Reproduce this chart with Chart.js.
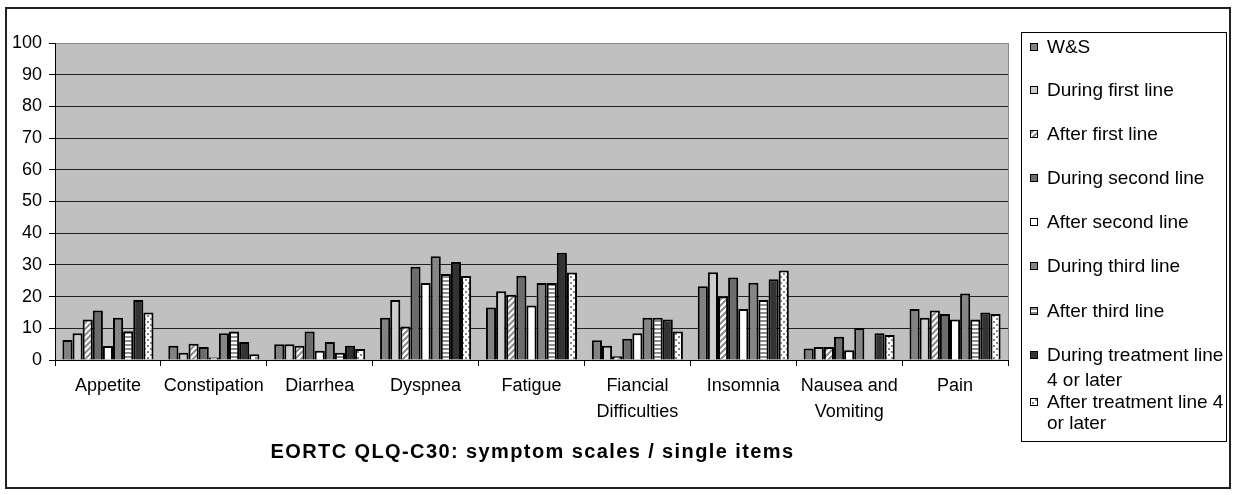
<!DOCTYPE html>
<html>
<head>
<meta charset="utf-8">
<script src="https://cdn.jsdelivr.net/npm/chart.js@4"></script>
<style>
  html, body { margin: 0; padding: 0; background: #fff; }
  #c { display: block; }
</style>
</head>
<body>
<canvas id="c" width="1239" height="495"></canvas>
<script>
const categories = [['Appetite'], ['Constipation'], ['Diarrhea'], ['Dyspnea'], ['Fatigue'], ['Fiancial', 'Difficulties'], ['Insomnia'], ['Nausea and', 'Vomiting'], ['Pain']];
const seriesNames = [['W&S'], ['During first line'], ['After first line'], ['During second line'], ['After second line'], ['During third line'], ['After third line'], ['During treatment line', '4 or later'], ['After treatment line 4', 'or later']];
const wsValues = [6.3, 4.5, 5.0, 13.3, 16.6, 6.2, 23.3, 3.6, 16.1];
const duringFirstValues = [8.4, 2.3, 5.0, 18.9, 21.7, 4.5, 27.7, 4.1, 13.3];
const afterFirstValues = [12.8, 5.1, 4.5, 10.6, 20.6, 1.2, 20.0, 4.1, 15.6];
const duringSecondValues = [15.6, 4.1, 9.0, 29.4, 26.6, 6.7, 26.0, 7.3, 14.5];
const afterSecondValues = [4.4, 0.8, 2.9, 24.3, 17.2, 8.4, 16.1, 3.1, 12.8];
const duringThirdValues = [13.3, 8.4, 5.7, 32.7, 24.3, 13.3, 24.4, 10.1, 21.0];
const afterThirdValues = [9.1, 9.0, 2.3, 27.1, 24.3, 13.3, 18.9, null, 12.8];
const duringFourthValues = [18.9, 5.7, 4.5, 30.9, 33.8, 12.8, 25.5, 8.4, 15.0];
const afterFourthValues = [15.0, 1.8, 3.5, 26.5, 27.6, 9.0, 28.2, 7.9, 14.5];
const yTickValues = [0, 10, 20, 30, 40, 50, 60, 70, 80, 90, 100];
const titleText = 'EORTC QLQ-C30: symptom scales / single items';

const FONT = "'Liberation Sans', Arial, sans-serif";

function makePattern(size, draw) {
  const c = document.createElement('canvas');
  c.width = size; c.height = size;
  const g = c.getContext('2d');
  g.fillStyle = '#ffffff';
  g.fillRect(0, 0, size, size);
  draw(g, size);
  return document.getElementById('c').getContext('2d').createPattern(c, 'repeat');
}
const diagPattern = makePattern(6, (g, s) => {
  g.strokeStyle = '#8a8a8a'; g.lineWidth = 2;
  g.beginPath();
  g.moveTo(-1, s + 1); g.lineTo(s + 1, -1);
  g.moveTo(-1, 1); g.lineTo(1, -1);
  g.moveTo(s - 1, s + 1); g.lineTo(s + 1, s - 1);
  g.stroke();
});
const hStripePattern = makePattern(4, (g, s) => {
  g.fillStyle = '#8c8c8c'; g.fillRect(0, 0, s, 2);
});
const dotPattern = makePattern(6, (g, s) => {
  g.fillStyle = '#858585';
  g.fillRect(0, 0, 2, 2);
  g.fillRect(3, 3, 2, 2);
});

const fills = ['#828282', '#cdcdcd', diagPattern, '#6c6c6c', '#ffffff', '#858585', hStripePattern, '#333333', dotPattern];
const seriesValues = [wsValues, duringFirstValues, afterFirstValues, duringSecondValues, afterSecondValues, duringThirdValues, afterThirdValues, duringFourthValues, afterFourthValues];

const datasets = seriesValues.map((vals, i) => ({
  label: seriesNames[i].join(' '),
  data: vals,
  backgroundColor: fills[i],
  borderColor: '#000000',
  borderWidth: 2,
  barPercentage: 1.0,
  categoryPercentage: 0.86
}));

const decorPlugin = {
  id: 'decor',
  beforeDraw(chart) {
    const { ctx, chartArea: a } = chart;
    ctx.save();
    ctx.fillStyle = '#ffffff';
    ctx.fillRect(0, 0, chart.width, chart.height);
    ctx.fillStyle = '#c0c0c0';
    ctx.fillRect(a.left, a.top, a.right - a.left, a.bottom - a.top);
    ctx.restore();
  },
  afterDraw(chart) {
    const { ctx, chartArea: a } = chart;
    ctx.save();
    // plot right border
    ctx.strokeStyle = '#888888'; ctx.lineWidth = 1;
    ctx.beginPath();
    ctx.moveTo(a.right + 0.5, a.top); ctx.lineTo(a.right + 0.5, a.bottom);
    ctx.stroke();
    // title
    ctx.fillStyle = '#000';
    ctx.font = 'bold 20px ' + FONT;
    ctx.textAlign = 'center';
    ctx.textBaseline = 'middle';
    if ('letterSpacing' in ctx) ctx.letterSpacing = '1.4px';
    ctx.fillText(titleText, (a.left + a.right) / 2 + 1, 452);
    if ('letterSpacing' in ctx) ctx.letterSpacing = '0px';
    // legend box
    ctx.strokeStyle = '#000'; ctx.lineWidth = 1;
    ctx.strokeRect(1021.5, 32.5, 205, 409);
    const itemY = [47, 90, 134, 178, 222, 266, 311, 355, 402];
    const secondLineY = [null, null, null, null, null, null, null, 380, 423];
    ctx.font = '19px ' + FONT;
    ctx.textAlign = 'left';
    ctx.textBaseline = 'middle';
    seriesNames.forEach((lines, i) => {
      const y = itemY[i];
      ctx.fillStyle = fills[i];
      ctx.fillRect(1030, y - 4, 8, 8);
      ctx.strokeStyle = '#000';
      ctx.strokeRect(1030.5, y - 3.5, 7, 7);
      ctx.fillStyle = '#000';
      ctx.fillText(lines[0], 1047, y + 1);
      if (lines[1]) ctx.fillText(lines[1], 1047, secondLineY[i] + 1);
    });
    // outer border
    ctx.strokeStyle = '#222'; ctx.lineWidth = 2;
    ctx.strokeRect(6, 8, 1224, 480);
    ctx.restore();
  }
};

Chart.defaults.font.family = FONT;
Chart.defaults.color = '#000';

new Chart(document.getElementById('c'), {
  type: 'bar',
  data: { labels: categories, datasets },
  options: {
    responsive: false,
    animation: false,
    devicePixelRatio: 1,
    layout: { padding: { left: 0, top: 43, right: 231, bottom: 0 } },
    plugins: { legend: { display: false }, title: { display: false }, tooltip: { enabled: false } },
    scales: {
      x: {
        grid: { drawOnChartArea: false, drawTicks: true, tickLength: 6, color: '#000', offset: true },
        border: { color: '#000', width: 1 },
        ticks: { color: '#000', font: { size: 18, lineHeight: 1.44 }, padding: 7, maxRotation: 0, minRotation: 0, autoSkip: false },
        afterFit(s) { s.height = 135; }
      },
      y: {
        min: 0, max: 100,
        afterBuildTicks(s) { s.ticks = yTickValues.map(v => ({ value: v })); },
        ticks: { color: '#000', font: { size: 18 }, padding: 7 },
        grid: {
          color: c => (c.tick && c.tick.value === 100) ? '#888888' : '#222222',
          tickColor: '#000', tickLength: 6, lineWidth: 1
        },
        border: { color: '#000', width: 1 },
        afterFit(s) { s.width = 55; }
      }
    }
  },
  plugins: [decorPlugin]
});
</script>
</body>
</html>
